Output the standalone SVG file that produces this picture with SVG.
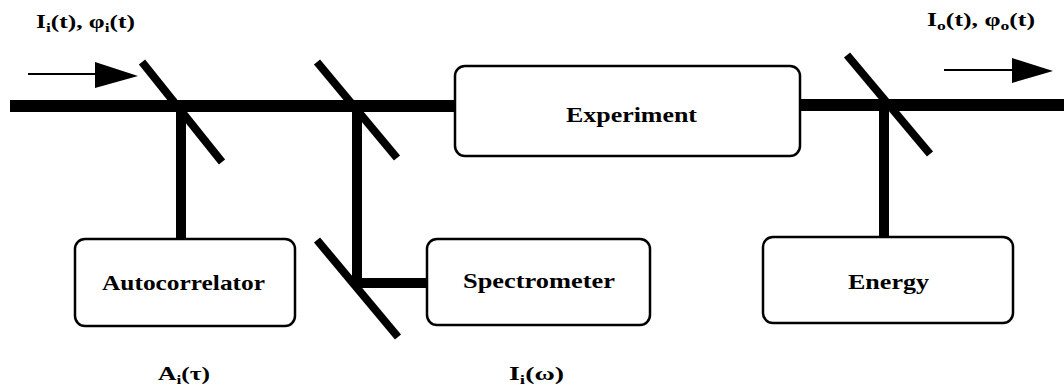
<svg xmlns="http://www.w3.org/2000/svg" width="1064" height="385" viewBox="0 0 1064 385">
<style>
.box{fill:#fff;stroke:#000;stroke-width:2.5}
.lbl{font-family:"Liberation Serif","Times New Roman",serif;font-weight:bold;font-size:22px;fill:#000}
.sym{font-family:"Liberation Serif","Times New Roman",serif;font-weight:bold;font-size:19px;fill:#000}
.beam{stroke:#000;stroke-width:12;fill:none}
.stem{stroke:#000;stroke-width:10;fill:none}
.mirror{stroke:#000;stroke-width:8;fill:none;stroke-linecap:butt}
.thin{stroke:#000;stroke-width:2;fill:none}
</style>
<rect width="1064" height="385" fill="#fff"/>
<g id="connectors">
  <line class="beam" x1="10" y1="106" x2="456" y2="106"/>
  <line class="beam" x1="799" y1="105" x2="1064" y2="105"/>
  <line class="stem" x1="181" y1="106" x2="181" y2="240"/>
  <line class="stem" x1="357" y1="106" x2="357" y2="283"/>
  <line class="stem" x1="357" y1="283" x2="428" y2="283"/>
  <line class="stem" x1="884" y1="105" x2="884" y2="238"/>
  <line class="thin" x1="28" y1="74" x2="97" y2="74"/>
  <polygon points="95,62 138,76 95,88" fill="#000"/>
  <line class="thin" x1="944" y1="70" x2="1013" y2="70"/>
  <polygon points="1012,58 1053,71 1012,83" fill="#000"/>
</g>
<g id="beamsplitters">
  <line class="mirror" x1="142" y1="62" x2="222" y2="162"/>
  <line class="mirror" x1="317" y1="62" x2="397" y2="158"/>
  <line class="mirror" x1="317" y1="240" x2="398" y2="337"/>
  <line class="mirror" x1="847" y1="55" x2="930" y2="154"/>
</g>
<g id="experiment">
  <rect class="box" x="455" y="66" width="345" height="90" rx="10"/>
  <text class="lbl" x="566" y="122" textLength="131" lengthAdjust="spacingAndGlyphs">Experiment</text>
</g>
<g id="autocorrelator">
  <rect class="box" x="75" y="239" width="220" height="87" rx="10"/>
  <text class="lbl" x="102" y="290" textLength="163" lengthAdjust="spacingAndGlyphs">Autocorrelator</text>
</g>
<g id="spectrometer">
  <rect class="box" x="427" y="239" width="223" height="86" rx="10"/>
  <text class="lbl" x="463" y="288" textLength="152" lengthAdjust="spacingAndGlyphs">Spectrometer</text>
</g>
<g id="energy">
  <rect class="box" x="763" y="237" width="250" height="86" rx="10"/>
  <text class="lbl" x="848" y="289" textLength="81" lengthAdjust="spacingAndGlyphs">Energy</text>
</g>
<g id="labels">
  <text class="sym" x="36" y="28" textLength="99" lengthAdjust="spacingAndGlyphs">I<tspan font-size="13" dy="4">i</tspan><tspan dy="-4">(t), φ</tspan><tspan font-size="13" dy="4">i</tspan><tspan dy="-4">(t)</tspan></text>
  <text class="sym" x="927" y="26" textLength="108" lengthAdjust="spacingAndGlyphs">I<tspan font-size="13" dy="4">o</tspan><tspan dy="-4">(t), φ</tspan><tspan font-size="13" dy="4">o</tspan><tspan dy="-4">(t)</tspan></text>
  <text class="sym" x="158" y="380" textLength="52" lengthAdjust="spacingAndGlyphs">A<tspan font-size="13" dy="4">i</tspan><tspan dy="-4">(τ)</tspan></text>
  <text class="sym" x="509" y="380" textLength="55" lengthAdjust="spacingAndGlyphs">I<tspan font-size="13" dy="4">i</tspan><tspan dy="-4">(ω)</tspan></text>
</g>
</svg>
